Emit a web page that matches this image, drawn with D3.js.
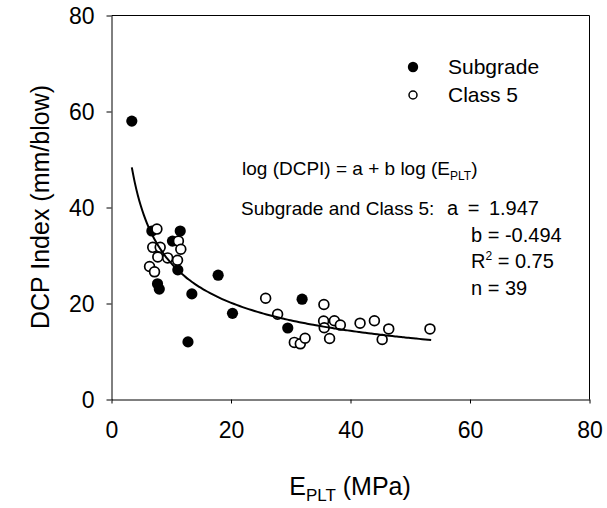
<!DOCTYPE html>
<html>
<head>
<meta charset="utf-8">
<script src="https://cdn.jsdelivr.net/npm/d3@7"></script>
<style>
  body { margin: 0; background: #fff; }
  svg { display: block; font-family: "Liberation Sans", Arial, sans-serif; }
</style>
</head>
<body>
<svg id="chart"></svg>
<script>
// values
const subgrade_x = [3.4, 6.75, 11.5, 10.2, 11.1, 7.7, 8.0, 17.85, 13.45, 20.25, 12.8, 29.5, 31.9];
const subgrade_y = [58.0, 35.1, 35.1, 33.0, 27.0, 24.1, 23.0, 25.9, 22.0, 17.95, 12.0, 14.9, 20.9];

const class5_x = [7.6, 11.2, 6.9, 8.15, 11.6, 7.75, 9.4, 11.05, 6.37, 7.2, 25.8, 27.8, 30.6, 31.6, 32.4,
                  35.55, 35.5, 37.3, 38.3, 35.6, 36.5, 41.6, 44.0, 46.4, 45.3, 53.3];
const class5_y = [35.5, 33.0, 31.7, 31.7, 31.3, 29.7, 29.5, 29.0, 27.7, 26.6, 21.1, 17.75, 11.9, 11.6, 12.75,
                  19.8, 16.35, 16.4, 15.5, 14.96, 12.7, 15.9, 16.4, 14.7, 12.5, 14.7];

const x_ticks = [0, 20, 40, 60, 80];
const y_ticks = [0, 20, 40, 60, 80];

// regression shown on the chart: log(DCPI) = a + b log(E)
const fit_a = 1.947;
const fit_b = -0.494;
const fit_r2 = 0.75;
const fit_range = [3.4, 53.5];

const legend_names = ["Subgrade", "Class 5"];


class Scatter {

    constructor(config) {
        this.config = {
            parent: config.parent,
            width: config.width || 607,
            height: config.height || 508,
            margin: config.margin || {top: 15, right: 18, bottom: 109, left: 111},
        };
        this.init();
    }

    init() {
        let self = this;

        self.svg = d3.select(self.config.parent)
            .attr('width', self.config.width)
            .attr('height', self.config.height);

        self.chart = self.svg.append('g')
            .attr('transform', `translate(${self.config.margin.left + 0.5}, ${self.config.margin.top + 0.5})`);

        self.inner_width = self.config.width - self.config.margin.left - self.config.margin.right;
        self.inner_height = self.config.height - self.config.margin.top - self.config.margin.bottom;

        self.xscale = d3.scaleLinear().domain([0, 80]).range([0, self.inner_width]);
        self.yscale = d3.scaleLinear().domain([0, 80]).range([self.inner_height, 0]);
    }

    render() {
        let self = this;
        const xs = self.xscale, ys = self.yscale;

        // frame (top + right)
        self.chart.append('path')
            .attr('d', `M0,0H${self.inner_width}V${self.inner_height}`)
            .attr('fill', 'none')
            .attr('stroke', '#000');

        const xaxis = self.chart.append('g')
            .attr('transform', `translate(0, ${self.inner_height})`)
            .call(d3.axisBottom(xs).tickValues(x_ticks).tickSize(4).tickSizeOuter(0).tickPadding(18));

        const yaxis = self.chart.append('g')
            .call(d3.axisLeft(ys).tickValues(y_ticks).tickSize(5).tickSizeOuter(0).tickPadding(12));

        [xaxis, yaxis].forEach(function(ax){
            ax.selectAll('text')
                .attr('fill', '#000')
                .style('font-size', '23px')
                .style('font-family', '"Liberation Sans", Arial, sans-serif');
            ax.selectAll('line, path').attr('stroke', '#000');
        });
        yaxis.selectAll('text').attr('dy', '0.36em');

        // subgrade (filled)
        self.chart.append('g').selectAll('circle')
            .data(d3.range(subgrade_x.length))
            .enter()
            .append('circle')
            .attr('cx', i => xs(subgrade_x[i]))
            .attr('cy', i => ys(subgrade_y[i]))
            .attr('r', 5.6)
            .attr('fill', '#000');

        // class 5 (open)
        self.chart.append('g').selectAll('circle')
            .data(d3.range(class5_x.length))
            .enter()
            .append('circle')
            .attr('cx', i => xs(class5_x[i]))
            .attr('cy', i => ys(class5_y[i]))
            .attr('r', 4.9)
            .attr('fill', '#fff')
            .attr('stroke', '#000')
            .attr('stroke-width', 1.7);

        // fitted curve
        const fit_x = d3.range(0, 101).map(k => fit_range[0] + (fit_range[1] - fit_range[0]) * k / 100);
        const line = d3.line()
            .x(d => xs(d))
            .y(d => ys(Math.pow(10, fit_a + fit_b * Math.log10(d))))
            .curve(d3.curveMonotoneX);
        self.chart.append('path')
            .datum(fit_x)
            .attr('d', line)
            .attr('fill', 'none')
            .attr('stroke', '#000')
            .attr('stroke-width', 2);

        // legend
        const legend = self.svg.append('g').style('font-size', '21px');
        legend.append('circle').attr('cx', 413).attr('cy', 67).attr('r', 5.2).attr('fill', '#000');
        legend.append('circle').attr('cx', 413).attr('cy', 95).attr('r', 4).attr('fill', '#fff')
            .attr('stroke', '#000').attr('stroke-width', 1.5);
        legend.selectAll('text.lg')
            .data(legend_names)
            .enter()
            .append('text')
            .attr('class', 'lg')
            .attr('x', 448)
            .attr('y', (d, i) => 74 + i * 28)
            .text(d => d);

        // equation block
        const note = self.svg.append('g').style('font-size', '19px');
        const eq = note.append('text').attr('x', 242).attr('y', 175);
        eq.append('tspan').text('log (DCPI) = a + b log (E');
        eq.append('tspan').attr('dy', 5).style('font-size', '12px').text('PLT');
        eq.append('tspan').attr('dy', -5).text(')');

        const vals = self.svg.append('g').style('font-size', '20px');
        note.append('text').attr('x', 241).attr('y', 215).text('Subgrade and Class 5:');
        vals.append('text').attr('x', 447).attr('y', 215).attr('word-spacing', '4px')
            .text('a = ' + fit_a.toFixed(3));
        vals.append('text').attr('x', 471).attr('y', 242).text('b = ' + fit_b.toFixed(3));
        const r2 = vals.append('text').attr('x', 471).attr('y', 268);
        r2.append('tspan').text('R');
        r2.append('tspan').attr('dy', -8).style('font-size', '12px').text('2');
        r2.append('tspan').attr('dy', 8).text(' = ' + fit_r2.toFixed(2));
        vals.append('text').attr('x', 471).attr('y', 295).text('n = ' + (subgrade_x.length + class5_x.length));

        // axis titles
        const xt = self.svg.append('text')
            .attr('x', self.config.margin.left + self.inner_width / 2)
            .attr('y', 495)
            .attr('text-anchor', 'middle')
            .style('font-size', '25px');
        xt.append('tspan').text('E');
        xt.append('tspan').attr('dy', 6).style('font-size', '17px').text('PLT');
        xt.append('tspan').attr('dy', -6).text(' (MPa)');

        self.svg.append('text')
            .attr('transform', `translate(49, ${self.config.margin.top + self.inner_height / 2}) rotate(-90)`)
            .attr('text-anchor', 'middle')
            .style('font-size', '25px')
            .text('DCP Index (mm/blow)');
    }
}

const chart = new Scatter({parent: '#chart', width: 607, height: 508});
chart.render();
</script>
</body>
</html>
